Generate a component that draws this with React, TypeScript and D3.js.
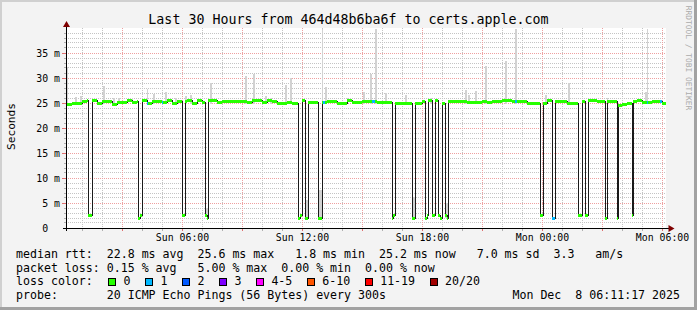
import React from 'react';
import * as d3 from 'd3';

const W = 697;
const H = 310;
const MONO = '"DejaVu Sans Mono", "Liberation Mono", monospace';
const CHAR_W = 6.97;

const PLOT_L = 66;
const PLOT_R = 666;
const PLOT_T = 28;
const PLOT_B = 228;

const titleText = 'Last 30 Hours from 464d48b6ba6f to certs.apple.com';
const yAxisTitle = 'Seconds';
const watermark = 'RRDTOOL / TOBI OETIKER';
const dateText = 'Mon Dec  8 06:11:17 2025';

// time = minutes since Sun 00:00
const windowStartMin = 11 + 17 / 60;
const windowEndMin = windowStartMin + 30 * 60;
const stepMinutes = 5;
const baselineBinMinutes = 15;
const yMaxMs = 40;

const xTickMinutes = [360, 720, 1080, 1440, 1800];
const xTickLabels = ['Sun 06:00', 'Sun 12:00', 'Sun 18:00', 'Mon 00:00', 'Mon 06:00'];
const yTickValues = [0, 5, 10, 15, 20, 25, 30, 35];
const yTickLabels = ['0  ', '5 m', '10 m', '15 m', '20 m', '25 m', '30 m', '35 m'];

// median rtt (ms), one value per 15 minutes starting Sun 00:00
const baselineMs = [
  24.7, 24.7, 24.9, 24.9, 25.3, 25.5, 25.5, 24.9, 25.3, 25.3,
  24.8, 25.2, 25.1, 25.5, 25.1, 25.3, 25.5, 24.9, 25.4, 25.4,
  25.2, 25.5, 25.0, 25.3, 25.3, 25.5, 25.0, 25.5, 25.2, 25.5,
  25.5, 25.2, 25.3, 25.3, 25.4, 25.3, 25.3, 25.2, 25.5, 25.5,
  25.2, 25.5, 25.3, 25.0, 24.9, 25.1, 25.0, 25.0, 25.5, 25.1,
  25.1, 25.1, 25.1, 25.3, 25.3, 25.0, 25.0, 25.5, 25.1, 25.1,
  25.4, 25.4, 25.3, 25.2, 25.1, 25.1, 24.9, 24.9, 24.9, 24.9,
  24.9, 24.9, 25.3, 25.5, 25.5, 25.5, 24.9, 25.4, 25.4, 25.3,
  25.3, 25.1, 25.1, 25.1, 25.3, 25.2, 25.3, 25.4, 25.5, 25.5,
  25.3, 25.3, 25.3, 25.0, 25.0, 25.0, 25.0, 25.5, 25.3, 25.3,
  25.3, 25.0, 25.0, 25.0, 25.3, 25.5, 25.5, 25.3, 25.3, 25.3,
  25.3, 24.6, 24.8, 25.0, 25.3, 25.5, 25.2, 25.1, 25.3, 25.3,
  25.0, 25.0,
];

// 5-minute steps where the median dropped
const dropStepMin = [
  80, 85, 230, 235, 360, 365, 430, 435, 710, 715, 730, 735, 770, 775,
  990, 995, 1050, 1055, 1090, 1095, 1110, 1115, 1130, 1135, 1150, 1155,
  1435, 1440, 1470, 1475, 1550, 1555, 1570, 1575, 1630, 1665, 1710,
];
const dropMs = [
  2.5, 2.5, 1.8, 2.5, 2.5, 2.5, 2.5, 1.8, 1.9, 2.5, 1.8, 1.8, 1.8, 1.8,
  1.8, 2.5, 1.8, 1.8, 1.8, 2.5, 2.5, 2.5, 2.5, 1.8, 2.5, 1.8,
  2.5, 2.5, 1.8, 1.8, 2.5, 2.5, 2.5, 2.5, 1.8, 1.8, 2.5,
];

// steps with packet loss (count of 20)
const lossStepMin = [255, 300, 785, 930, 935, 1360, 1470, 1475, 1755, 1795];
const lossCount = [1, 1, 1, 1, 1, 1, 1, 1, 1, 1];

// smoke (ping spread) per step
const smokeStepMin = [
  15, 40, 55, 125, 155, 170, 210, 255, 275, 310, 340, 370, 385, 430, 435,
  445, 550, 575, 610, 625, 670, 685, 730, 735, 770, 775, 780, 790, 855, 905,
  925, 940, 970, 1030, 1050, 1055, 1105, 1150, 1155, 1210, 1220, 1240, 1270,
  1330, 1360, 1450, 1520, 1635, 1750, 1755,
];
const smokeLowMs = [
  24.6, 24.8, 24.8, 24.8, 24.8, 24.8, 24.8, 24.6, 24.8, 24.8, 24.8, 24.8, 24.8, 2.5, 1.8,
  24.8, 24.8, 24.8, 24.8, 24.8, 24.8, 24.8, 1.8, 1.8, 1.8, 1.8, 24.8, 24.8, 24.8, 24.8,
  24.8, 24.8, 24.8, 24.8, 1.8, 1.8, 24.8, 1.8, 1.8, 24.8, 24.8, 24.8, 24.8,
  24.8, 24.8, 24.8, 24.8, 24.8, 24.8, 24.8,
];
const smokeHighMs = [
  32.1, 26.1, 26.3, 28.3, 26.0, 26.0, 26.0, 27.8, 26.7, 27.1, 26.0, 26.3, 26.5, 4.0, 4.0,
  29.0, 30.3, 30.8, 26.3, 26.0, 28.5, 30.0, 5.5, 5.5, 7.6, 7.6, 39.8, 28.1, 26.0, 27.1,
  30.8, 39.8, 27.0, 26.5, 6.0, 6.0, 26.0, 5.0, 5.0, 27.5, 26.5, 27.3, 32.3,
  33.3, 39.8, 26.5, 28.9, 26.0, 27.1, 39.8,
];

const medianStatValues = [22.8, 25.6, 1.8, 25.2, 7.0];
const medianStatNames = ['avg', 'max', 'min', 'now', 'sd'];
const amPerSec = 3.3;
const lossStatValues = [0.15, 5.0, 0.0, 0.0];
const lossStatNames = ['avg', 'max', 'min', 'now'];
const probeText = '20 ICMP Echo Pings (56 Bytes) every 300s';

const lossLegendLabels = ['0', '1', '2', '3', '4-5', '6-10', '11-19', '20/20'];
const lossLegendMax = [0, 1, 2, 3, 5, 10, 19, 20];
const lossLegendColors = ['#26ff00', '#00b8ff', '#0059ff', '#7e00ff', '#ff00ff', '#ff5500', '#ff0000', '#a10000'];

const pad = (s: string, n: number) => (s.length >= n ? s : ' '.repeat(n - s.length) + s);

export default function App() {
  const x = d3.scaleLinear().domain([windowStartMin, windowEndMin]).range([PLOT_L, PLOT_R]);
  const y = d3.scaleLinear().domain([0, yMaxMs]).range([PLOT_B, PLOT_T]);
  const col = (t: number) => Math.floor(x(t)) + 0.5;
  const row = (v: number) => Math.floor(y(v)) + 0.5;

  const dropMap = new Map<number, number>(dropStepMin.map((t, i) => [t, dropMs[i]]));
  const lossMap = new Map<number, number>(lossStepMin.map((t, i) => [t, lossCount[i]]));
  const steps = d3.range(10, windowEndMin, stepMinutes);
  const series = steps.map((t) => ({
    t,
    m: dropMap.has(t) ? (dropMap.get(t) as number) : baselineMs[Math.floor(t / baselineBinMinutes)],
    loss: lossMap.get(t) ?? 0,
  }));
  const linePts = [...series, { ...series[series.length - 1], t: series[series.length - 1].t + stepMinutes }];
  const medianLine = d3
    .line<{ t: number; m: number }>()
    .x((d) => col(d.t))
    .y((d) => row(d.m))
    .curve(d3.curveStepAfter)(linePts) as string;

  const lossColor = (n: number) => {
    const i = lossLegendMax.findIndex((m) => n <= m);
    return lossLegendColors[i < 0 ? lossLegendColors.length - 1 : i];
  };

  const hours = d3.range(1, 31).map((h) => h * 60).filter((t) => t > windowStartMin && t < windowEndMin);
  const msLines = d3.range(1, yMaxMs);

  const row1 =
    'median rtt: ' +
    medianStatValues
      .slice(0, 4)
      .map((v, i) => pad(v.toFixed(1), 5) + ' ms ' + medianStatNames[i] + ' ')
      .join('') +
    pad(medianStatValues[4].toFixed(1), 5) + ' ms ' + medianStatNames[4] + ' ' +
    pad(amPerSec.toFixed(1), 4) + '   am/s';
  const row2 =
    'packet loss: ' +
    lossStatValues.map((v, i) => v.toFixed(2) + ' % ' + lossStatNames[i]).join('   ').replace(/ {3}(?=0\.00 % min)/, '  ').replace(/ {3}(?=0\.00 % now)/, '  ');
  const row4 = 'probe:       ' + probeText;

  const legendX = 16;
  const rowY = (i: number) => 257.8 + 13.8 * i;

  // loss legend positions
  let bx = 108;
  const lossItems = lossLegendLabels.map((label, i) => {
    const boxX = Math.round(bx);
    const textX = bx + 15.5;
    bx = textX + label.length * CHAR_W + 14.5;
    return { label, color: lossLegendColors[i], boxX, textX };
  });

  const gridMinor = '#c4c4c4';
  const gridMajor = '#eea0a0';

  return (
    <svg
      width={W}
      height={H}
      viewBox={`0 0 ${W} ${H}`}
      style={{ position: 'absolute', left: 0, top: 0, display: 'block' }}
      xmlns="http://www.w3.org/2000/svg"
    >
      <defs>
        <clipPath id="plotClip">
          <rect x={PLOT_L} y={PLOT_T} width={PLOT_R - PLOT_L} height={PLOT_B - PLOT_T} />
        </clipPath>
      </defs>
      <rect x={0} y={0} width={W} height={H} fill="#f3f3f3" />
      {/* frame */}
      <rect x={0} y={0} width={W} height={2} fill="#d0d0d0" />
      <rect x={0} y={0} width={2} height={H} fill="#d0d0d0" />
      <rect x={W - 3} y={0} width={3} height={H} fill="#a2a2a2" />
      <rect x={0} y={H - 3} width={W} height={3} fill="#a2a2a2" />

      {/* canvas */}
      <rect x={PLOT_L} y={PLOT_T} width={PLOT_R - PLOT_L} height={PLOT_B - PLOT_T} fill="#ffffff" />

      {/* grid */}
      <g shapeRendering="crispEdges">
        {msLines.filter((v) => v % 5 !== 0).map((v) => (
          <line key={'hm' + v} x1={PLOT_L} x2={PLOT_R} y1={row(v)} y2={row(v)} stroke={gridMinor} strokeDasharray="1,1" />
        ))}
        {hours.filter((t) => t % 180 !== 0).map((t) => (
          <line key={'vm' + t} x1={col(t)} x2={col(t)} y1={PLOT_T} y2={PLOT_B} stroke={gridMinor} strokeDasharray="1,1" />
        ))}
        {msLines.filter((v) => v % 5 === 0).map((v) => (
          <line key={'hM' + v} x1={PLOT_L} x2={PLOT_R} y1={row(v)} y2={row(v)} stroke={gridMajor} strokeDasharray="1,1" />
        ))}
        {hours.filter((t) => t % 180 === 0).map((t) => (
          <line key={'vM' + t} x1={col(t)} x2={col(t)} y1={PLOT_T} y2={PLOT_B} stroke={gridMajor} strokeDasharray="1,1" />
        ))}
        {/* x ticks */}
        {hours.map((t) => (
          <line key={'xt' + t} x1={col(t)} x2={col(t)} y1={PLOT_B} y2={PLOT_B + 3} stroke={t % 180 === 0 ? '#e07070' : '#b0b0b0'} />
        ))}
        {/* y ticks */}
        {msLines.map((v) => (
          <line key={'yt' + v} x1={PLOT_L - (v % 5 === 0 ? 4 : 2)} x2={PLOT_L} y1={row(v)} y2={row(v)} stroke={v % 5 === 0 ? '#e07070' : '#b0b0b0'} />
        ))}
      </g>

      <g clipPath="url(#plotClip)">
        {/* smoke */}
        <g shapeRendering="crispEdges">
          {smokeStepMin.map((t, i) => {
            const x0 = Math.floor(x(t));
            const x1 = Math.max(x0 + 1, Math.floor(x(t + stepMinutes)));
            const y0 = Math.floor(y(smokeHighMs[i]));
            const y1 = Math.floor(y(smokeLowMs[i]));
            return <rect key={'s' + t} x={x0} y={y0} width={x1 - x0} height={y1 - y0} fill="#d2d2d2" />;
          })}
        </g>
        {/* median line */}
        <path d={medianLine} fill="none" stroke="#1a1a1a" strokeWidth={1} shapeRendering="crispEdges" />
        {/* loss-colored median band */}
        <g shapeRendering="crispEdges">
          {series.map((d) => {
            const x0 = Math.floor(x(d.t));
            const x1 = Math.max(x0 + 1, Math.floor(x(d.t + stepMinutes)));
            const yc = Math.floor(y(d.m));
            return <rect key={'m' + d.t} x={x0} y={yc - 1} width={x1 - x0} height={3} fill={lossColor(d.loss)} />;
          })}
        </g>
      </g>

      {/* axes */}
      <g shapeRendering="crispEdges">
        <line x1={PLOT_L - 3} x2={PLOT_R + 5} y1={PLOT_B + 0.5} y2={PLOT_B + 0.5} stroke="#000" />
        <line x1={PLOT_L + 0.5} x2={PLOT_L + 0.5} y1={PLOT_B + 3} y2={PLOT_T - 4} stroke="#000" />
      </g>
      <polygon
        points={`${PLOT_R + 2.5},${PLOT_B - 3} ${PLOT_R + 8.5},${PLOT_B + 0.5} ${PLOT_R + 2.5},${PLOT_B + 4}`}
        fill="#7f0000"
      />
      <polygon
        points={`${PLOT_L - 3},${PLOT_T - 1} ${PLOT_L + 0.5},${PLOT_T - 7} ${PLOT_L + 4},${PLOT_T - 1}`}
        fill="#7f0000"
      />

      {/* y labels */}
      <g fontFamily={MONO} fontSize={9.85} fill="#000">
        {yTickValues.map((v, i) => (
          <text key={'yl' + v} x={60} y={Math.floor(y(v)) + 3.5} textAnchor="end" xmlSpace="preserve" style={{ whiteSpace: 'pre' }}>
            {yTickLabels[i]}
          </text>
        ))}
        {xTickMinutes.map((t, i) => (
          <text key={'xl' + t} x={col(t)} y={241} textAnchor="middle">
            {xTickLabels[i]}
          </text>
        ))}
      </g>

      {/* titles */}
      <text x={W / 2} y={24} textAnchor="middle" fontFamily={MONO} fontSize={13.3} fill="#000">
        {titleText}
      </text>
      <text
        transform={`translate(15, ${(PLOT_T + PLOT_B) / 2 - 1.5}) rotate(-90)`}
        textAnchor="middle"
        fontFamily={MONO}
        fontSize={11.2}
        fill="#000"
      >
        {yAxisTitle}
      </text>
      <text
        transform={`translate(685.5, 58) rotate(90)`}
        textAnchor="middle"
        fontFamily={MONO}
        fontSize={7.9}
        fill="#ababab"
      >
        {watermark}
      </text>

      {/* legend */}
      <g fontFamily={MONO} fontSize={11.6} fill="#000">
        <text x={legendX} y={rowY(0)} xmlSpace="preserve" style={{ whiteSpace: 'pre' }}>{row1}</text>
        <text x={legendX} y={rowY(1)} xmlSpace="preserve" style={{ whiteSpace: 'pre' }}>{row2}</text>
        <text x={legendX} y={rowY(2)} xmlSpace="preserve" style={{ whiteSpace: 'pre' }}>loss color:</text>
        {lossItems.map((it) => (
          <g key={'li' + it.label}>
            <rect x={it.boxX + 0.5} y={278.5} width={7} height={7} fill={it.color} stroke="#000" strokeWidth={1} shapeRendering="crispEdges" />
            <text x={it.textX} y={rowY(2)}>{it.label}</text>
          </g>
        ))}
        <text x={legendX} y={rowY(3)} xmlSpace="preserve" style={{ whiteSpace: 'pre' }}>{row4}</text>
        <text x={680} y={rowY(3)} textAnchor="end" xmlSpace="preserve" style={{ whiteSpace: 'pre' }}>{dateText}</text>
      </g>
    </svg>
  );
}
